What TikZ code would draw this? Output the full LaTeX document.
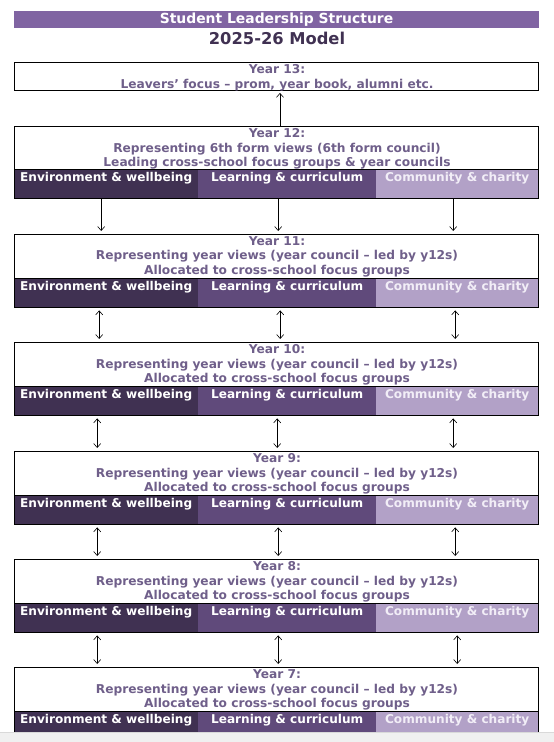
\documentclass[tikz,border=0pt]{standalone}
\usepackage{fontspec}
\setmainfont{DejaVu Sans}
\usetikzlibrary{arrows.meta}
\definecolor{pmain}{HTML}{8064A2}
\definecolor{pdk}{HTML}{403152}
\definecolor{pmid}{HTML}{604A7B}
\definecolor{plt}{HTML}{B2A1C7}
\definecolor{ptext}{HTML}{6F5F8A}
\definecolor{ltext}{HTML}{F2EEF7}
\definecolor{gstrip}{HTML}{F0F0F0}
\tikzset{
  wbox/.style={draw=black, line width=0.9pt, fill=white, minimum width=524pt, anchor=north, inner sep=0pt},
  ytext/.style={anchor=north, inner sep=0pt, align=center, text=ptext, font=\fontsize{12.2}{14.4}\selectfont\bfseries},
  band/.style={anchor=north west, inner xsep=0pt, inner ysep=0pt, minimum height=29pt,
     text height=12.5pt, text depth=16.5pt, font=\fontsize{12.1}{14}\selectfont\bfseries},
  bdk/.style={band, fill=pdk, text=white, minimum width=184pt},
  bmid/.style={band, fill=pmid, text=white, minimum width=178pt},
  blt/.style={band, fill=plt, text=ltext, minimum width=162pt},
  arr/.style={draw=black, line width=0.6pt, arrows={-Straight Barb[length=4pt,width=7pt]}},
  darr/.style={draw=black, line width=0.6pt, arrows={Straight Barb[length=4pt,width=7pt]-Straight Barb[length=4pt,width=7pt]}, shorten <=3pt, shorten >=3pt},
}
\begin{document}
\begin{tikzpicture}[x=1pt, y=-1pt]
\useasboundingbox (0,0) rectangle (554,742);
\fill[white] (0,0) rectangle (554,742);
% title
\node[fill=pmain, minimum width=525pt, minimum height=17pt, inner sep=0pt, text=white,
  font=\fontsize{13.9}{15}\selectfont\bfseries] (title) at (276.5,19.5) {Student Leadership Structure};
\node[text=pdk, inner sep=0pt, font=\fontsize{16.3}{20}\selectfont\bfseries] (model) at (277,38) {2025-26 Model};
% Year 13
\node[wbox, minimum height=28pt] (y13) at (276,62) {};
\node[ytext] (t13) at (277,64.5) {Year 13:\\Leavers’ focus – prom, year book, alumni etc.};
% Year 12
\node[wbox, minimum height=43pt] (y12) at (276,126) {};
\node[ytext] (t12) at (277,128.5) {Year 12:\\Representing 6th form views (6th form council)\\Leading cross-school focus groups \& year councils};
\node[bdk] (e12) at (14,169) {Environment \& wellbeing};
\node[bmid] (l12) at (198,169) {Learning \& curriculum};
\node[blt] (c12) at (376,169) {Community \& charity};
\draw[line width=0.9pt] (e12.north west) rectangle (c12.south east);
% Years 11..7
\foreach \yr/\tp in {11/234, 10/342, 9/451, 8/559, 7/667}{
  \node[wbox, minimum height=44pt] (y\yr) at (276,\tp) {};
  \node[ytext] (t\yr) at (277,\tp+2.5) {Year \yr:\\Representing year views (year council – led by y12s)\\Allocated to cross-school focus groups};
  \node[bdk] (e\yr) at (14,\tp+44) {Environment \& wellbeing};
  \node[bmid] (l\yr) at (198,\tp+44) {Learning \& curriculum};
  \node[blt] (c\yr) at (376,\tp+44) {Community \& charity};
  \draw[line width=0.9pt] (e\yr.north west) rectangle (c\yr.south east);
}
% arrows
\draw[arr] ([xshift=4pt]y12.north) -- ([xshift=4pt,yshift=-2pt]y13.south);
\draw[arr, shorten >=3pt] ([xshift=-5pt]e12.south) -- ([xshift=-5pt]e12.south |- y11.north);
\draw[arr, shorten >=3pt] ([xshift=-9pt]l12.south) -- ([xshift=-9pt]l12.south |- y11.north);
\draw[arr, shorten >=3pt] ([xshift=-4pt]c12.south) -- ([xshift=-4pt]c12.south |- y11.north);
\draw[darr] ([xshift=-7pt]e11.south) -- ([xshift=-7pt]e11.south |- y10.north);
\draw[darr] ([xshift=-7pt]l11.south) -- ([xshift=-7pt]l11.south |- y10.north);
\draw[darr] ([xshift=-2pt]c11.south) -- ([xshift=-2pt]c11.south |- y10.north);
\draw[darr] ([xshift=-9pt]e10.south) -- ([xshift=-9pt]e10.south |- y9.north);
\draw[darr] ([xshift=-10pt]l10.south) -- ([xshift=-10pt]l10.south |- y9.north);
\draw[darr] ([xshift=-4pt]c10.south) -- ([xshift=-4pt]c10.south |- y9.north);
\draw[darr] ([xshift=-9pt]e9.south) -- ([xshift=-9pt]e9.south |- y8.north);
\draw[darr] ([xshift=-9pt]l9.south) -- ([xshift=-9pt]l9.south |- y8.north);
\draw[darr] ([xshift=-2pt]c9.south) -- ([xshift=-2pt]c9.south |- y8.north);
\draw[darr] ([xshift=-9pt]e8.south) -- ([xshift=-9pt]e8.south |- y7.north);
\draw[darr] ([xshift=-9pt]l8.south) -- ([xshift=-9pt]l8.south |- y7.north);
\draw[darr] ([xshift=0pt]c8.south) -- ([xshift=0pt]c8.south |- y7.north);
% bottom strip
\fill[gstrip] (0,732.5) rectangle (554,742);
\draw[black!15, line width=0.5pt] (0,732.5) -- (554,732.5);
\end{tikzpicture}
\end{document}
